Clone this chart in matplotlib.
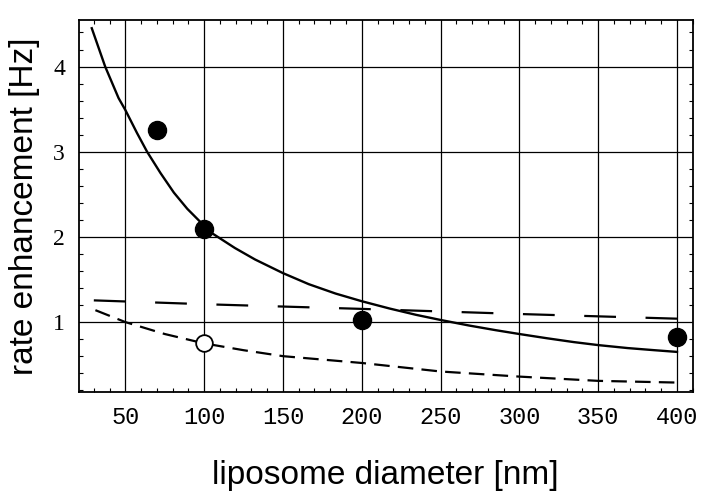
import numpy as np
import matplotlib.pyplot as plt
from matplotlib.ticker import MultipleLocator

# measured points
meas_d = [70, 100, 200, 400]
meas_rate = [3.26, 2.09, 1.02, 0.82]
open_d = [100]
open_rate = [0.75]

# model curves
fit_d = [28.7, 37.2, 45.7, 50, 57.4, 63.8, 72.3, 80.8, 89.3, 97.9, 105.3,
         119.5, 132.3, 150, 166.4, 183.4, 200, 217.5, 234.5, 250,
         268, 285, 300, 317.6, 334.6, 350, 368.7, 385.7, 400]
fit_rate = [4.45, 4.0, 3.63, 3.49, 3.22, 3.0, 2.75, 2.52, 2.33, 2.17, 2.04,
            1.87, 1.735, 1.575, 1.445, 1.335, 1.245, 1.16, 1.085, 1.025,
            0.96, 0.905, 0.86, 0.81, 0.765, 0.73, 0.695, 0.67, 0.65]

long_d = [30, 100, 200, 300, 400]
long_rate = [1.255, 1.21, 1.155, 1.095, 1.04]

short_d = [31, 50, 75, 100, 125, 150, 200, 250, 300, 350, 400]
short_rate = [1.14, 1.0, 0.86, 0.75, 0.67, 0.6, 0.52, 0.42, 0.36, 0.31, 0.29]

xticks = [50, 100, 150, 200, 250, 300, 350, 400]
yticks = [1, 2, 3, 4]

fig = plt.figure(figsize=(7.04, 4.93), dpi=100)
ax = fig.add_axes([0.112, 0.205, 0.872, 0.755])

ax.plot(fit_d, fit_rate, color='k', lw=1.7)
ax.plot(long_d, long_rate, color='k', lw=1.6, dashes=(14.3, 13.3))
ax.plot(short_d, short_rate, color='k', lw=1.6, dashes=(7, 3.7))
ax.plot(meas_d, meas_rate, 'o', color='k', ms=13, zorder=5)
ax.plot(open_d, open_rate, 'o', mfc='white', mec='k', mew=1.3, ms=12, zorder=5)

ax.set_xlim(20.5, 410)
ax.set_ylim(0.18, 4.55)
ax.set_xticks(xticks)
ax.set_yticks(yticks)
ax.xaxis.set_minor_locator(MultipleLocator(10))
ax.yaxis.set_minor_locator(MultipleLocator(0.2))
ax.grid(True, which='major', color='k', lw=0.9)
ax.tick_params(which='both', direction='in', top=True, right=True, color='k')
ax.tick_params(which='major', length=0)
ax.tick_params(which='minor', length=3, width=0.8)
ax.tick_params(axis='x', which='major', pad=10)
ax.tick_params(axis='y', which='major', pad=10)
for s in ax.spines.values():
    s.set_linewidth(1.3)

for lab in ax.get_xticklabels():
    lab.set_fontfamily('Liberation Mono')
    lab.set_fontsize(17)
for lab in ax.get_yticklabels():
    lab.set_fontfamily('Liberation Serif')
    lab.set_fontsize(17)

ax.set_xlabel('liposome diameter [nm]', fontsize=24, family='Liberation Sans')
ax.set_ylabel('rate enhancement [Hz]', fontsize=24, family='Liberation Sans')
ax.xaxis.set_label_coords(0.5, -0.183)
ax.yaxis.set_label_coords(-0.064, 0.5)

fig.savefig('out.png', dpi=100, facecolor='white')
